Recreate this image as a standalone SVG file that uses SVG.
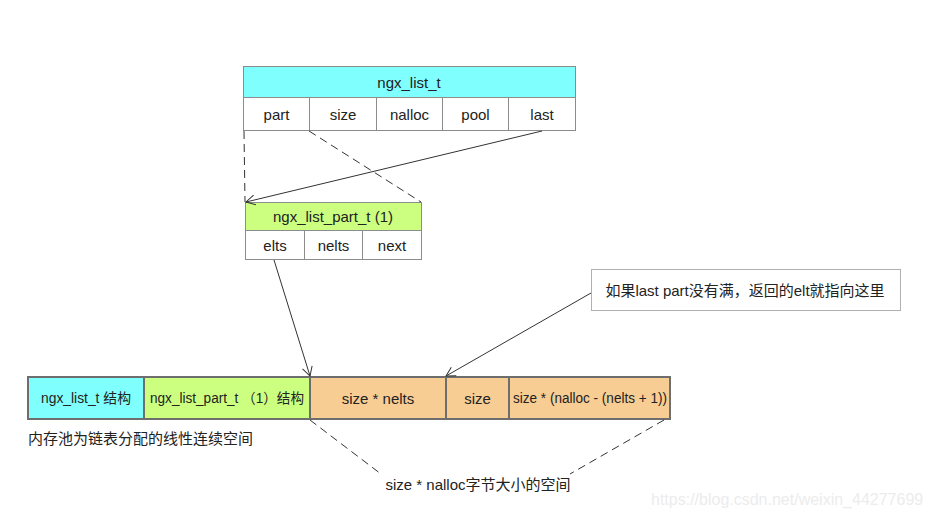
<svg xmlns="http://www.w3.org/2000/svg" width="931" height="519" viewBox="0 0 931 519">
<defs>
<style>
text{font-family:"Liberation Sans","Noto Sans CJK SC",sans-serif;font-size:15px;fill:#222;}
.c{text-anchor:middle;dominant-baseline:central;}
.box{stroke:#8c8c8c;stroke-width:1;}
.row{stroke:#6e6e6e;stroke-width:2;}
.cy{fill:#80ffff;}
.gr{fill:#ccff80;}
.or{fill:#f8cd93;}
.wh{fill:#fff;}
.ln{stroke:#333;stroke-width:1;fill:none;}
.dash{stroke:#333;stroke-width:1;fill:none;stroke-dasharray:8 5;}
.wm{font-size:16px;fill:#ececec;}
</style>
<marker id="arr" markerWidth="12" markerHeight="12" refX="10" refY="6" orient="auto" markerUnits="userSpaceOnUse">
<path d="M1,1 L10,6 L1,11" fill="none" stroke="#333" stroke-width="1"/>
</marker>
</defs>
<rect width="931" height="519" fill="#fff"/>

<g id="ngx_list_t">
<rect class="box cy" x="243.5" y="66.5" width="332" height="31"/>
<text class="c" x="409" y="82">ngx_list_t</text>
<rect class="box wh" x="243.5" y="97.5" width="66" height="33"/>
<rect class="box wh" x="309.5" y="97.5" width="67" height="33"/>
<rect class="box wh" x="376.5" y="97.5" width="66" height="33"/>
<rect class="box wh" x="442.5" y="97.5" width="66" height="33"/>
<rect class="box wh" x="508.5" y="97.5" width="67" height="33"/>
<text class="c" x="276.5" y="114">part</text>
<text class="c" x="343" y="114">size</text>
<text class="c" x="409.5" y="114">nalloc</text>
<text class="c" x="475.5" y="114">pool</text>
<text class="c" x="542" y="114">last</text>
</g>

<g id="ngx_list_part_t">
<rect class="box gr" x="245.5" y="202.5" width="176" height="28"/>
<text class="c" x="333" y="216">ngx_list_part_t (1)</text>
<rect class="box wh" x="245.5" y="230.5" width="59" height="29"/>
<rect class="box wh" x="304.5" y="230.5" width="58" height="29"/>
<rect class="box wh" x="362.5" y="230.5" width="59" height="29"/>
<text class="c" x="275" y="245">elts</text>
<text class="c" x="333.5" y="245">nelts</text>
<text class="c" x="392" y="245">next</text>
</g>

<g id="memory">
<rect class="row cy" x="28" y="377" width="116" height="42"/>
<rect class="row gr" x="144" y="377" width="166" height="42"/>
<rect class="row or" x="310" y="377" width="136" height="42"/>
<rect class="row or" x="446" y="377" width="63" height="42"/>
<rect class="row or" x="509" y="377" width="161" height="42"/>
<text class="c" x="86" y="398" style="font-size:14px" textLength="90" lengthAdjust="spacingAndGlyphs">ngx_list_t 结构</text>
<text class="c" x="227" y="398" style="font-size:14px" textLength="154" lengthAdjust="spacingAndGlyphs">ngx_list_part_t （1）结构</text>
<text class="c" x="378" y="398">size * nelts</text>
<text class="c" x="477.5" y="398">size</text>
<text class="c" x="590" y="398" style="font-size:14px" textLength="154" lengthAdjust="spacingAndGlyphs">size * (nalloc - (nelts + 1))</text>
<text x="28" y="444">内存池为链表分配的线性连续空间</text>
</g>

<g id="note">
<rect x="591.5" y="269.5" width="309" height="41" fill="#fff" stroke="#b0b0b0" stroke-width="1"/>
<text class="c" x="745" y="290">如果last part没有满，返回的elt就指向这里</text>
</g>

<g id="span_label">
<text class="c" x="478" y="484">size * nalloc字节大小的空间</text>
</g>

<g id="connectors">
<path class="dash" d="M244,131 L245,202"/>
<path class="dash" d="M309,131 L421,202"/>
<path class="ln" d="M542,131 L246,202" marker-end="url(#arr)"/>
<path class="ln" d="M274,260 L310,376" marker-end="url(#arr)"/>
<path class="ln" d="M591,293 L446,376" marker-end="url(#arr)"/>
<path class="dash" d="M310,420 L381,474"/>
<path class="dash" d="M664,420 L570,474"/>
</g>

<text class="wm" x="651" y="505">https://blog.csdn.net/weixin_44277699</text>
</svg>
